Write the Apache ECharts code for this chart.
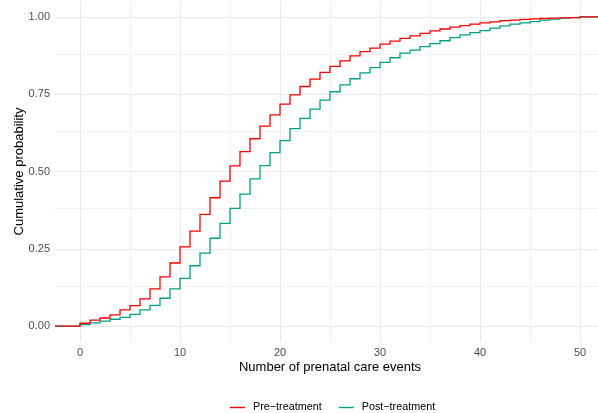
<!DOCTYPE html>
<html>
<head>
<meta charset="utf-8">
<script src="https://cdn.jsdelivr.net/npm/echarts@6/dist/echarts.min.js"></script>
<style>
  html, body { margin: 0; padding: 0; background: #fff; }
  #chart { width: 598px; height: 413px; }
</style>
</head>
<body>
<div id="chart"></div>
<script>
// Empirical cumulative distribution of prenatal care events, before and after treatment
const events = [0,1,2,3,4,5,6,7,8,9,10,11,12,13,14,15,16,17,18,19,20,21,22,23,24,25,
  26,27,28,29,30,31,32,33,34,35,36,37,38,39,40,41,42,43,44,45,46,47,48,49,50];
const preTreatment = [0.009,0.019,0.026,0.036,0.052,0.066,0.088,0.120,0.159,0.204,0.256,
  0.307,0.361,0.415,0.469,0.518,0.564,0.606,0.647,0.683,0.718,0.748,0.775,0.799,0.821,
  0.840,0.858,0.874,0.888,0.899,0.912,0.922,0.931,0.939,0.947,0.955,0.961,0.967,0.972,
  0.977,0.981,0.984,0.988,0.990,0.992,0.994,0.995,0.996,0.997,0.998,1.000];
const postTreatment = [0.005,0.010,0.016,0.022,0.028,0.038,0.052,0.067,0.090,0.120,0.154,
  0.195,0.236,0.284,0.332,0.381,0.427,0.476,0.519,0.561,0.600,0.639,0.672,0.702,0.731,
  0.758,0.780,0.800,0.819,0.836,0.853,0.868,0.883,0.893,0.904,0.914,0.923,0.933,0.942,
  0.949,0.956,0.964,0.971,0.977,0.981,0.985,0.990,0.993,0.996,0.998,1.000];
const xTicks = [0, 10, 20, 30, 40, 50];
const yTicks = [0, 0.25, 0.5, 0.75, 1];
const xMinor = [5, 15, 25, 35, 45];
const yMinor = [0.125, 0.375, 0.625, 0.875];

const X_MIN = -2.5, X_MAX = 52.5, Y_MIN = -0.05, Y_MAX = 1.05;
const FONT = "'Liberation Sans', Arial, sans-serif";

// Step path of an ECDF: flat at 0 from the left edge, a vertical jump at each
// event count, then flat at the last value out to the right edge
function stepCoords(values) {
  const pts = [[X_MIN, 0]];
  let prev = 0;
  events.forEach((x, i) => {
    pts.push([x, prev]);
    pts.push([x, values[i]]);
    prev = values[i];
  });
  pts.push([X_MAX, prev]);
  return pts;
}

const gridLine = (w, c) => ({ color: c, width: w, type: 'solid' });
const gridMarks = []
  .concat(xTicks.map(v => ({ xAxis: v, lineStyle: gridLine(1, '#EBEBEB') })))
  .concat(xMinor.map(v => ({ xAxis: v, lineStyle: gridLine(1, '#F2F2F2') })))
  .concat(yTicks.map(v => ({ yAxis: v, lineStyle: gridLine(1, '#EBEBEB') })))
  .concat(yMinor.map(v => ({ yAxis: v, lineStyle: gridLine(1, '#F2F2F2') })));

function ecdfSeries(name, color, values, z) {
  return {
    name, type: 'lines', coordinateSystem: 'cartesian2d', polyline: true, z,
    color, silent: true,
    lineStyle: { color, width: 1.3, opacity: 1, curveness: 0 },
    data: [{ coords: stepCoords(values) }]
  };
}

const chart = echarts.init(document.getElementById('chart'), null, { renderer: 'canvas' });
chart.setOption({
  animation: false,
  backgroundColor: '#ffffff',
  textStyle: { fontFamily: FONT },
  grid: { left: 55, right: -7, top: 1.5, bottom: 71.5, outerBoundsMode: 'none', containLabel: false },
  xAxis: {
    type: 'value', min: X_MIN, max: X_MAX,
    name: 'Number of prenatal care events', nameLocation: 'middle', nameGap: 19, nameMoveOverlap: false,
    nameTextStyle: { color: '#000', fontSize: 13, fontFamily: FONT },
    axisLine: { show: false }, axisTick: { show: false, customValues: xTicks },
    splitLine: { show: false },
    axisLabel: { customValues: xTicks, color: '#4D4D4D', fontSize: 11, margin: 6, fontFamily: FONT }
  },
  yAxis: {
    type: 'value', min: Y_MIN, max: Y_MAX,
    name: 'Cumulative probability', nameLocation: 'middle', nameGap: 29, nameMoveOverlap: false,
    nameTextStyle: { color: '#000', fontSize: 13, fontFamily: FONT },
    axisLine: { show: false }, axisTick: { show: false, customValues: yTicks },
    splitLine: { show: false },
    axisLabel: { customValues: yTicks, color: '#4D4D4D', fontSize: 11, margin: 5, fontFamily: FONT,
      formatter: v => v.toFixed(2) }
  },
  legend: {
    left: 225, top: 397, itemWidth: 15, itemHeight: 1.4, itemGap: 17, icon: 'rect',
    itemStyle: { borderWidth: 0 },
    lineStyle: { width: 0 },
    textStyle: { color: '#000', fontSize: 10.8, fontFamily: FONT, padding: [0, 0, 0, 3] },
    data: [
      { name: 'Pre\u2212treatment', itemStyle: { color: '#FF0000', borderWidth: 0 } },
      { name: 'Post\u2212treatment', itemStyle: { color: '#00A087', borderWidth: 0 } }
    ]
  },
  series: [
    {
      name: 'grid', type: 'line', data: [], silent: true, z: 0,
      markLine: { silent: true, z: 0, symbol: 'none', label: { show: false }, animation: false, data: gridMarks }
    },
    ecdfSeries('Post\u2212treatment', '#00A087', postTreatment, 2),
    ecdfSeries('Pre\u2212treatment', '#FF0000', preTreatment, 3)
  ]
});
</script>
</body>
</html>
